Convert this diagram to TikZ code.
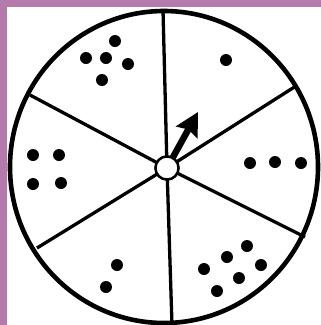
\documentclass[tikz,border=0pt]{standalone}
\usetikzlibrary{arrows.meta}
\definecolor{frame}{RGB}{180,122,172}
\begin{document}
\begin{tikzpicture}[x=1pt,y=-1pt,
  rim/.style={line width=4.6pt},
  spoke/.style={line width=3.3pt},
  dot/.style={circle,fill=black,inner sep=0pt,minimum size=12pt},
  hubstyle/.style={circle,draw,line width=2.4pt,fill=white,minimum size=23pt,inner sep=0pt}]
\fill[frame] (0,0) rectangle (321,325);
\fill[white] (7,7) rectangle (321,325);
\useasboundingbox (0,0) rectangle (321,325);
\begin{scope}
\clip (7,7) rectangle (321,325);
\draw[rim] (164,167) ellipse [x radius=154, y radius=156];
\node[hubstyle] (hub) at (167,168) {};
\coordinate (r1) at (163,10);
\coordinate (r2) at (296,86);
\coordinate (r3) at (305,237);
\coordinate (r4) at (172,325);
\coordinate (r5) at (37,248);
\coordinate (r6) at (30,95);
\foreach \r in {r1,r2,r3,r4,r5,r6}
  \draw[spoke] (hub.center) -- (\r);
\coordinate (tip) at (198,112);
\draw[line width=6.5pt,-{Stealth[length=23pt,width=24pt,inset=3pt]}] (hub.center) -- (tip);
\node[hubstyle] at (hub) {};
\end{scope}
% top-left: 5
\foreach \p in {(115,41),(86,58),(106,58),(128,64),(102,80)} \node[dot] at \p {};
% top-right: 1
\node[dot] at (226,60) {};
% right: 3
\foreach \p in {(250,163),(275,162),(301,163)} \node[dot] at \p {};
% bottom-right: 6
\foreach \p in {(247,246),(227,257),(261,265),(204,269),(239,278),(217,291)} \node[dot] at \p {};
% bottom-left: 2
\foreach \p in {(117,265),(106,287)} \node[dot] at \p {};
% left: 4
\foreach \p in {(33,155),(59,155),(33,184),(61,183)} \node[dot] at \p {};
\end{tikzpicture}
\end{document}
